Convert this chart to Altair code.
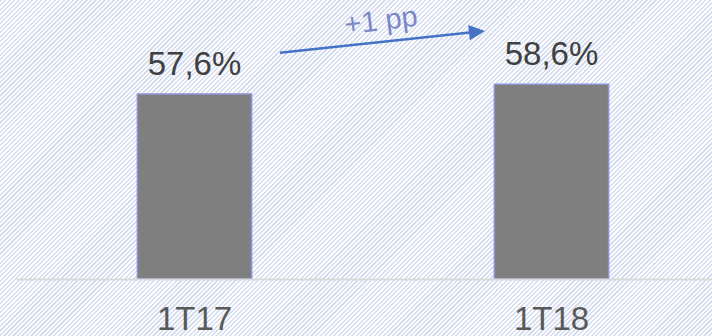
import altair as alt
import pandas as pd

# Quarterly ratio, first quarter of each year
periods = ["1T17", "1T18"]
ratios = [57.6, 58.6]
labels = ["57,6%", "58,6%"]
change_label = "+1 pp"

FONT = "Liberation Sans"
W, H = 712, 336

bars_df = pd.DataFrame({"period": periods, "ratio": ratios, "label": labels})
arrow_df = pd.DataFrame({
    "p_from": [periods[0]], "p_to": [periods[1]],
    "r_from": [ratios[0]], "r_to": [ratios[1]],
    "text": [change_label],
})

# Diagonal hatching for the whole canvas, built as a striped linear gradient
HATCH = "#d6def0"
n_stripes = 232
share = 0.5
stops = []
for k in range(n_stripes):
    t0 = k / n_stripes
    t1 = (k + share) / n_stripes
    t2 = (k + 1) / n_stripes
    stops += [
        {"offset": t0, "color": HATCH},
        {"offset": t1, "color": HATCH},
        {"offset": t1, "color": "#ffffff"},
        {"offset": t2, "color": "#ffffff"},
    ]
gx = (W + H) * W / (W * W + H * H)
hatch_fill = {"gradient": "linear", "stops": stops,
              "x1": 0, "y1": 0, "x2": gx, "y2": gx * H / W}

x_scale = alt.Scale(range=[0, 714], paddingInner=0.68, paddingOuter=0.34)
y_scale = alt.Scale(domain=[38.5, 67.3], zero=False, nice=False)

x_enc = alt.X("period:N", scale=x_scale, sort=periods,
              axis=alt.Axis(title=None, labelAngle=0, ticks=False, tickSize=0,
                            domainColor="#d9d9d9", domainWidth=2, zindex=1,
                            labelFont=FONT, labelFontSize=33, labelColor="#595959",
                            labelBaseline="alphabetic", labelPadding=50))
y_enc = alt.Y("ratio:Q", scale=y_scale, axis=None)

background = alt.Chart(pd.DataFrame({"k": [0]})).mark_rect(fill=hatch_fill).encode(
    x=alt.value(-16), x2=alt.value(W - 16), y=alt.value(0), y2=alt.value(H)
)

bars = alt.Chart(bars_df).mark_bar(
    color="#7f7f7f", stroke="#8e92d6", strokeWidth=1.5
).encode(x=x_enc, y=y_enc, y2=alt.datum(38.5))

values = alt.Chart(bars_df).mark_text(
    font=FONT, fontSize=33, color="#404040", baseline="alphabetic", dy=-19
).encode(x=alt.X("period:N", sort=periods), y="ratio:Q", text="label:N")

arrow_line = alt.Chart(arrow_df).mark_rule(
    color="#4472c4", strokeWidth=2.5,
    xOffset=85.5, x2Offset=-74.5, yOffset=-41.3, y2Offset=-52.5
).encode(
    x=alt.X("p_from:N", sort=periods), x2="p_to:N",
    y="r_from:Q", y2="r_to:Q"
)

arrow_head = alt.Chart(arrow_df).mark_point(
    shape="M1,0L-1,-0.95L-1,0.95Z", size=256, filled=True,
    fill="#4472c4", opacity=1, strokeWidth=0, angle=354,
    xOffset=-74.5, yOffset=-52.5
).encode(x=alt.X("p_to:N", sort=periods), y="r_to:Q")

change_text = alt.Chart(arrow_df).mark_text(
    font=FONT, fontSize=29, color="#7b88c8", align="center",
    baseline="alphabetic", angle=353, xOffset=187.5, yOffset=-64
).encode(x=alt.X("p_from:N", sort=periods), y="r_from:Q", text="text:N")

chart = alt.layer(
    background, bars, values, arrow_line, arrow_head, change_text
).properties(
    width=W - 16, height=279,
    padding={"left": 16, "top": 0, "right": 0, "bottom": H - 279},
    autosize=alt.AutoSizeParams(type="none"),
    background="#ffffff",
).configure_view(stroke=None)

chart.save("out.html", embed_options={"renderer": "svg", "actions": False})
